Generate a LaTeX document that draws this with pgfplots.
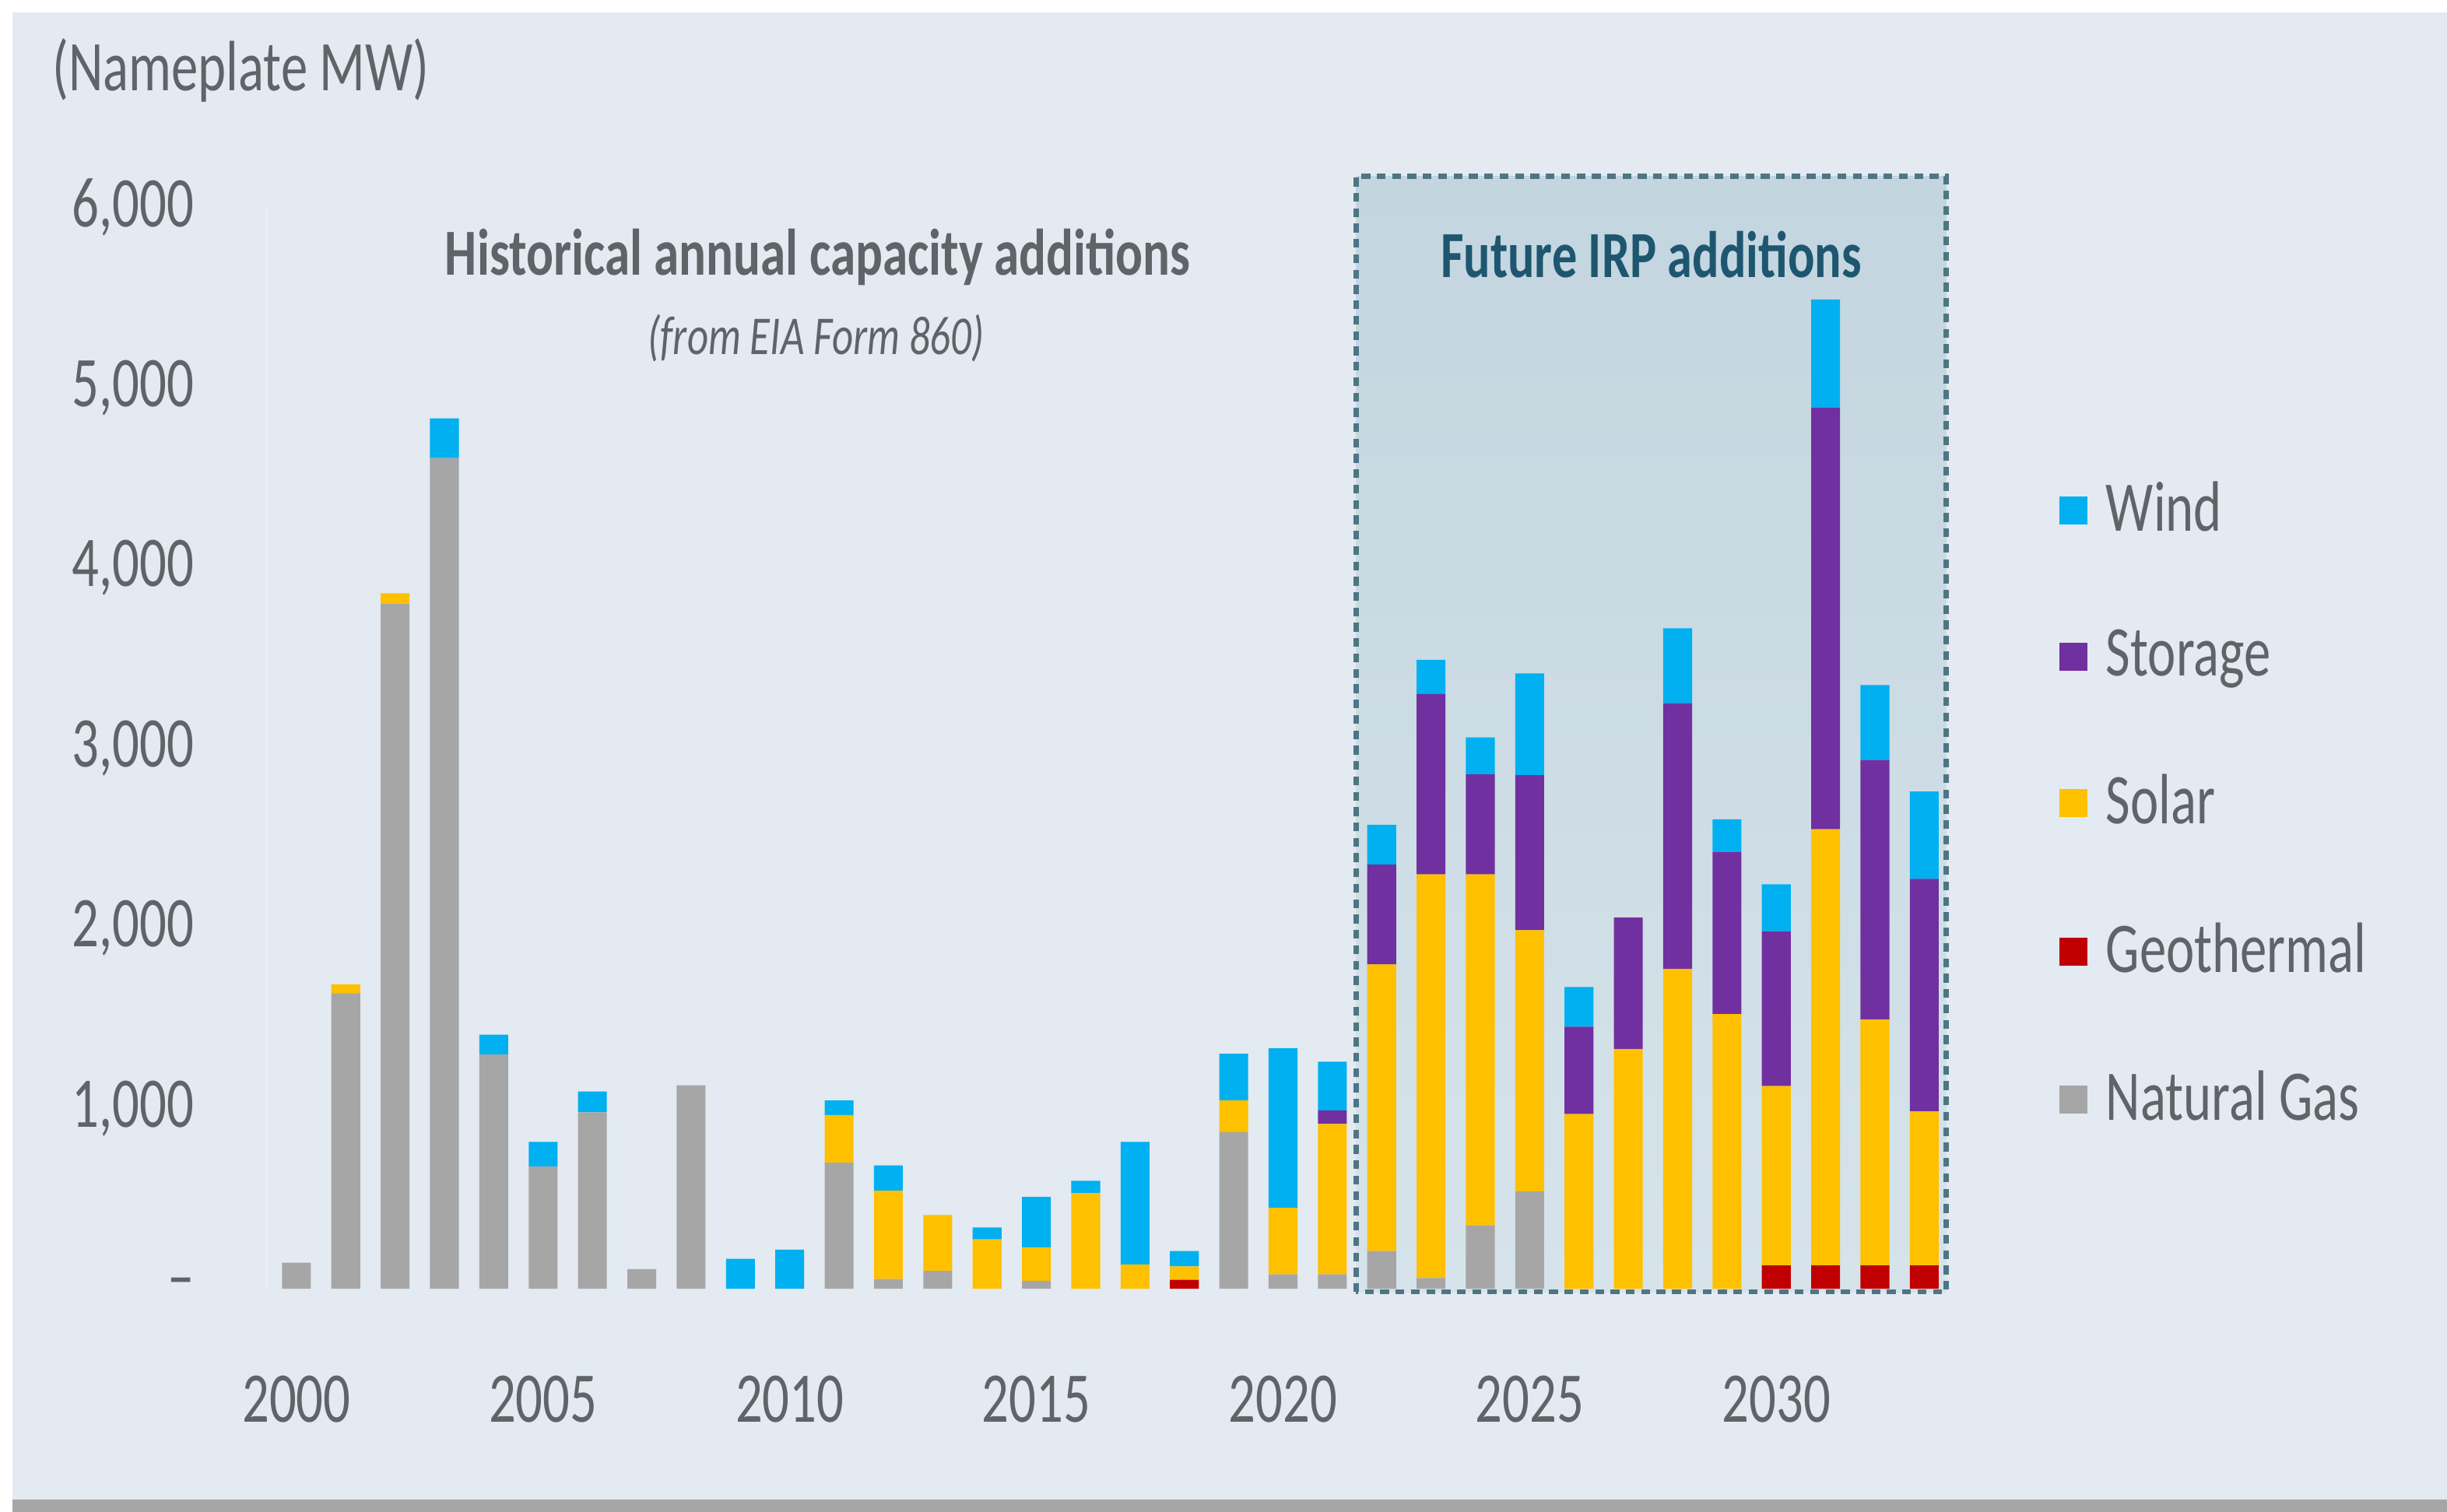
\documentclass[border=0pt]{standalone}
\usepackage{fontspec}
\setmainfont{Carlito}
\usepackage{graphicx}
\usepackage{pgfplots}
\usepackage{pgfplotstable}
\pgfplotsset{compat=1.18}
\definecolor{bgc}{HTML}{E3EAF1}
\definecolor{boxtop}{HTML}{C3D5DF}
\definecolor{boxbot}{HTML}{D6E3EA}
\definecolor{boxline}{HTML}{4F7585}
\definecolor{txtgray}{HTML}{5F6468}
\definecolor{teal}{HTML}{1E5670}
\definecolor{cwind}{HTML}{00B0F0}
\definecolor{cstor}{HTML}{7030A0}
\definecolor{csolar}{HTML}{FFC000}
\definecolor{cgeo}{HTML}{C00000}
\definecolor{cgas}{HTML}{A6A6A6}
\newcommand{\cz}[1]{\scalebox{0.75}[1]{#1}}
\newcommand{\tfont}{\fontsize{13pt}{15pt}\selectfont}
\pgfplotstableread{
year gas geo solar storage wind
2000 145 0 0 0 0
2001 1640 0 50 0 0
2002 3800 0 60 0 0
2003 4610 0 0 0 220
2004 1300 0 0 0 110
2005 680 0 0 0 135
2006 980 0 0 0 115
2007 110 0 0 0 0
2008 1130 0 0 0 0
2009 0 0 0 0 167
2010 0 0 0 0 217
2011 700 0 265 0 80
2012 55 0 490 0 140
2013 100 0 310 0 0
2014 0 0 275 0 65
2015 45 0 185 0 280
2016 0 0 530 0 70
2017 0 0 135 0 680
2018 0 50 75 0 85
2019 870 0 175 0 260
2020 80 0 370 0 885
2021 80 0 835 75 270
2022 210 0 1590 555 220
2023 60 0 2240 1000 190
2024 350 0 1950 555 205
2025 540 0 1450 860 565
2026 0 0 970 485 220
2027 0 0 1330 730 0
2028 0 0 1775 1475 415
2029 0 0 1525 900 180
2030 0 130 995 860 260
2031 0 130 2420 2340 600
2032 0 130 1365 1440 415
2033 0 130 855 1290 485
}\datatable
\pgfplotsset{mybar/.style={fill=#1, draw=none,
  legend image code/.code={\fill[fill=#1] (0cm,-0.09cm) rectangle (0.18cm,0.09cm);}}}
\begin{document}
\begin{tikzpicture}
% background
\fill[white] (0,0) rectangle (15.68cm,9.69cm);
\fill[bgc] (0.08cm,0.08cm) rectangle (15.68cm,9.61cm);
\fill[black!35] (0.08cm,0) rectangle (15.68cm,0.08cm);
% future box
\shade[top color=boxtop, bottom color=boxbot] (8.69cm,1.41cm) rectangle (12.47cm,8.56cm);
\draw[boxline, line width=0.9pt, dash pattern=on 1.6pt off 1.2pt] (8.69cm,1.41cm) rectangle (12.47cm,8.56cm);
% texts
\node[anchor=west, text=txtgray, inner sep=0pt] at (0.33cm,9.24cm) {\tfont\cz{(Nameplate MW)}};
\node[text=txtgray, inner sep=0pt] at (5.24cm,8.04cm) {\fontsize{12pt}{14pt}\selectfont\bfseries\scalebox{0.77}[1]{Historical annual capacity additions}};
\node[text=txtgray, inner sep=0pt] at (5.23cm,7.52cm) {\fontsize{10pt}{12pt}\selectfont\itshape\cz{(from EIA Form 860)}};
\node[text=teal, inner sep=0pt] at (10.58cm,8.06cm) {\fontsize{12pt}{14pt}\selectfont\bfseries\scalebox{0.76}[1]{Future IRP additions}};
\begin{axis}[
  at={(1.71cm,1.43cm)}, anchor=south west,
  scale only axis, width=10.81cm, height=6.93cm,
  ybar stacked, bar width=0.185cm,
  xmin=1999.4, xmax=2033.6, ymin=0, ymax=6000,
  clip=false,
  axis lines*=left,
  x axis line style={draw=none},
  y axis line style={draw=white!80!bgc!90!gray, line width=0.6pt},
  tick style={draw=none}, major tick length=0pt,
  xtick={2000,2005,2010,2015,2020,2025,2030},
  xticklabels={\cz{2000},\cz{2005},\cz{2010},\cz{2015},\cz{2020},\cz{2025},\cz{2030}},
  ytick={0,1000,2000,3000,4000,5000,6000},
  yticklabels={{\cz{\textendash}\hspace{0.28cm}},\cz{1,000},\cz{2,000},\cz{3,000},\cz{4,000},\cz{5,000},\cz{6,000}},
  xticklabel style={font=\tfont, text=txtgray, inner sep=0pt, anchor=north, yshift=-0.55cm},
  yticklabel style={font=\tfont, text=txtgray, inner sep=0pt, anchor=east, xshift=-0.46cm},
  reverse legend,
  legend cell align=left,
  legend style={at={(1.052,0.758)}, anchor=north west, draw=none, fill=none,
    font=\tfont, text=txtgray, row sep=0.58cm, column sep=0.12cm,
    nodes={inner sep=0pt}},
]
\addplot[mybar=cgas] table[x=year, y=gas] {\datatable};
\addplot[mybar=cgeo] table[x=year, y=geo] {\datatable};
\addplot[mybar=csolar] table[x=year, y=solar] {\datatable};
\addplot[mybar=cstor] table[x=year, y=storage] {\datatable};
\addplot[mybar=cwind] table[x=year, y=wind] {\datatable};
\legend{\cz{Natural Gas},\cz{Geothermal},\cz{Solar},\cz{Storage},\cz{Wind}}
\end{axis}
\end{tikzpicture}
\end{document}
